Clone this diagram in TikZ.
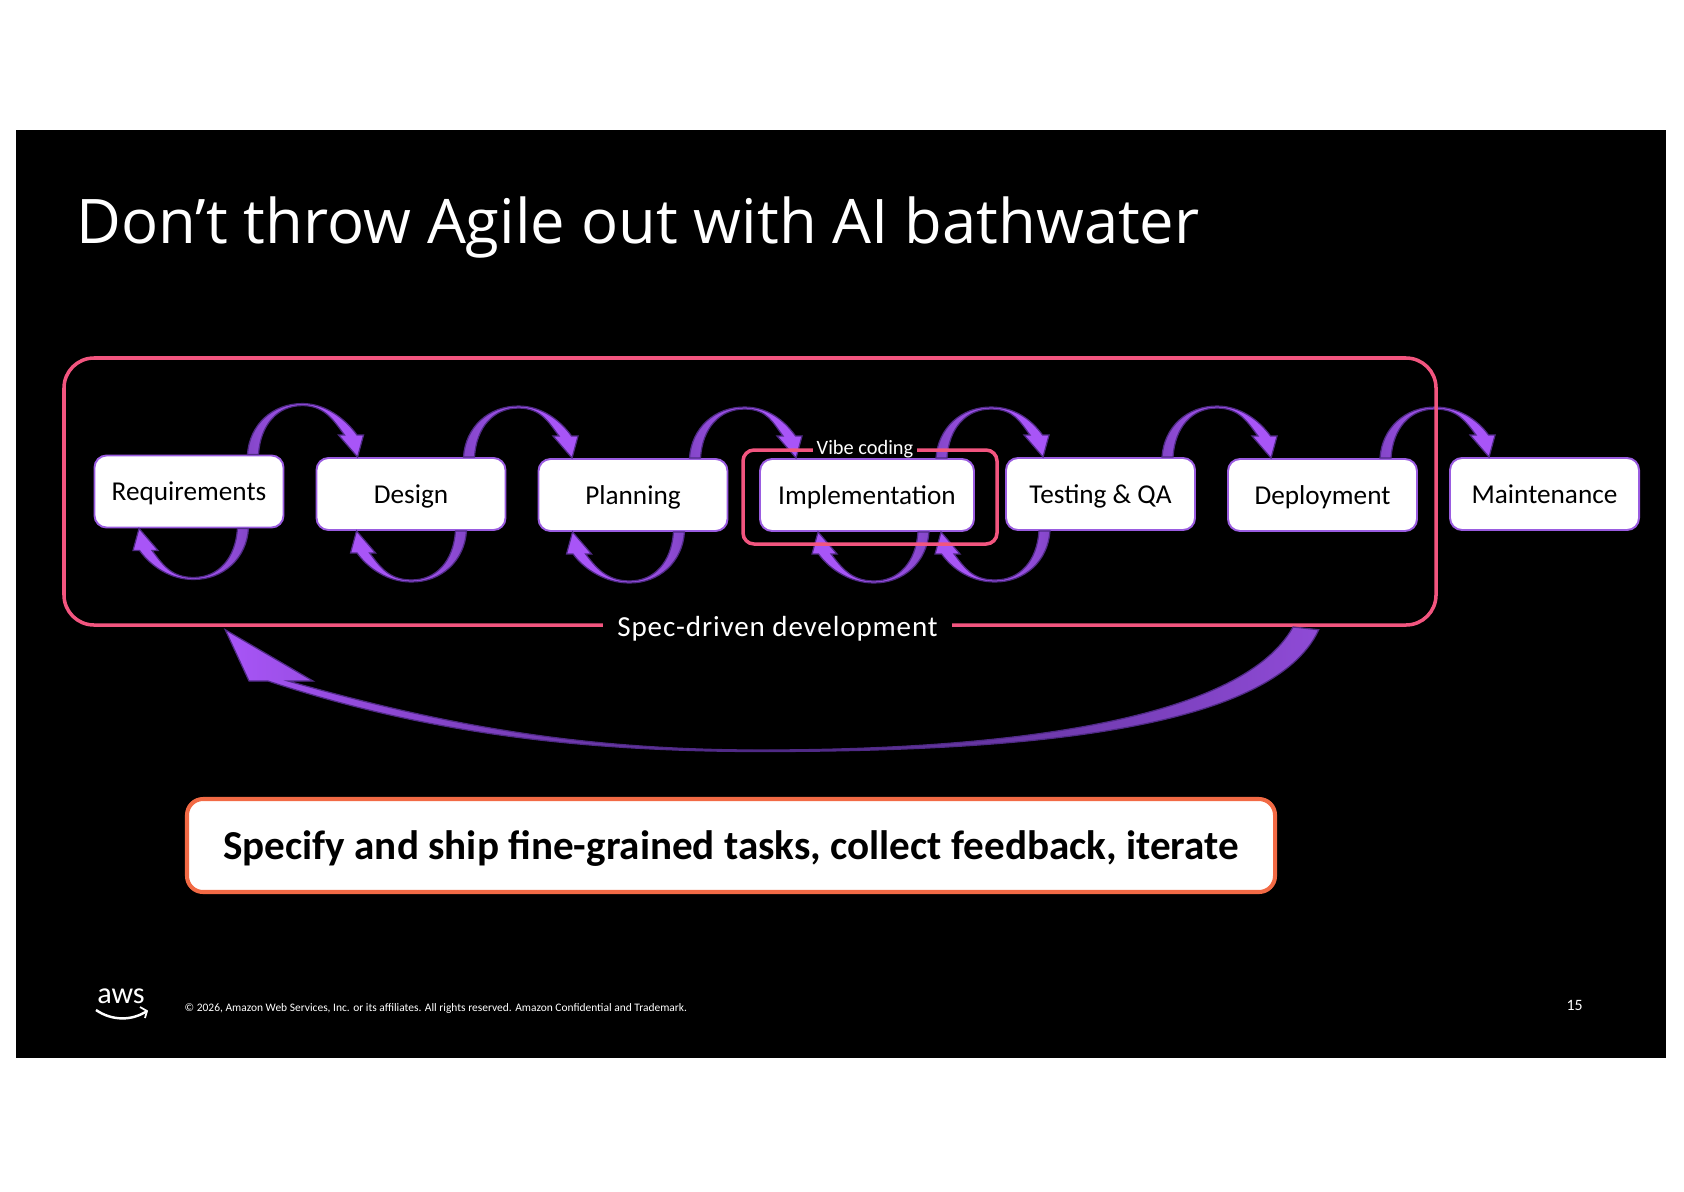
\documentclass[tikz,border=0pt]{standalone}
\usepackage{fontspec}
\usetikzlibrary{calc}
\setmainfont{Carlito}
\newfontfamily\widefont[LetterSpace=3]{Carlito}
\newfontfamily\titlefont{Open Sans}
\definecolor{loopbright}{HTML}{A855F7}
\definecolor{loopdark}{HTML}{8446C8}
\definecolor{loopline}{HTML}{4F2A85}
\definecolor{boxline}{HTML}{9A5CE0}
\definecolor{specpink}{HTML}{F2557F}
\definecolor{calloutorange}{HTML}{F26A45}
\tikzset{
    stagebox/.style={draw=boxline, fill=white, line width=0.55pt, rounded corners=0.12cm,
        minimum width=1.89cm, minimum height=0.72cm, inner sep=0pt, text=black, text height=2.35mm, text depth=0.5mm,
        font=\fontsize{7.75}{9}\selectfont},
    specbox/.style={draw=specpink, line width=1pt, inner sep=0pt},
    overlabel/.style={fill=black, text=white, inner ysep=0.5pt},
    loopover/.style={left color=loopdark, right color=loopbright, middle color=loopbright, draw=loopline, line width=0.35pt},
    loopunder/.style={right color=loopdark, left color=loopbright, middle color=loopbright, draw=loopline, line width=0.35pt},
}
% block arrow: tail, tip, side (1 over, -1 under), style
\newcommand{\loopconn}[4]{
    \draw[#4] (#1) .. controls ($(#1)+#3*(0.02,0.30)$) and ($(#1)+#3*(0.25,0.51)$) .. ($(#1)+#3*(0.55,0.51)$)
        .. controls ($(#1)+#3*(0.78,0.51)$) and ($(#2)+#3*(-0.12,0.38)$) .. ($(#2)+#3*(-0.005,0.22)$)
        -- ($(#2)+#3*(0.06,0.22)$) -- (#2) -- ($(#2)+#3*(-0.19,0.22)$) -- ($(#2)+#3*(-0.13,0.22)$)
        .. controls ($(#2)+#3*(-0.23,0.35)$) and ($(#1)+#3*(0.78,0.49)$) .. ($(#1)+#3*(0.55,0.49)$)
        .. controls ($(#1)+#3*(0.30,0.49)$) and ($(#1)+#3*(0.13,0.30)$) .. ($(#1)+#3*(0.11,0)$) -- cycle;
}
\newcommand{\looptop}[4]{
    \coordinate (looptail) at ($(#1.north east)+(-#3,0)$);
    \coordinate (loophead) at ($(#2.north west)+(#4,0)$);
    \loopconn{looptail}{loophead}{1}{loopover}
}
\newcommand{\loopbottom}[4]{
    \coordinate (looptail) at ($(#1.south east)+(-#3,0)$);
    \coordinate (loophead) at ($(#2.south west)+(#4,0)$);
    \loopconn{looptail}{loophead}{-1}{loopunder}
}
\begin{document}
\begin{tikzpicture}
    \useasboundingbox (0,0) rectangle (16.84,11.91);
    \fill[black] (0.16,1.33) rectangle (16.66,10.61);

    \node[text=white, font={\titlefont\fontsize{17.5}{20}\selectfont}, anchor=base west, inner sep=0pt] (title) at (0.76,9.48) {Don’t throw Agile out with AI bathwater};

    % the stages
    \node[stagebox] (req) at (1.89,6.995) {Requirements};
    \node[stagebox] (des) at (4.11,6.97) {Design};
    \node[stagebox] (plan) at (6.33,6.96) {Planning};
    \node[stagebox, minimum width=2.14cm] (impl) at (8.67,6.96) {Implementation};
    \node[stagebox] (test) at (11.005,6.97) {Testing \& QA};
    \node[stagebox] (dep) at (13.225,6.96) {Deployment};
    \node[stagebox] (maint) at (15.445,6.97) {Maintenance};

    % forward and back loops
    \looptop{req}{des}{.37}{.42}
    \looptop{des}{plan}{.43}{.345}
    \looptop{plan}{impl}{.39}{.37}
    \looptop{impl}{test}{.39}{.38}
    \looptop{test}{dep}{.34}{.44}
    \looptop{dep}{maint}{.38}{.40}
    \loopbottom{req}{req}{.36}{.455}
    \loopbottom{des}{des}{.40}{.41}
    \loopbottom{plan}{plan}{.44}{.35}
    \loopbottom{impl}{impl}{.46}{.59}
    \loopbottom{test}{impl}{1.46}{1.82}

    % the two frames
    \node[specbox, rounded corners=0.3cm, minimum width=13.72cm, minimum height=2.67cm] (spec) at (7.50,6.995) {};
    \node[specbox, rounded corners=0.11cm, minimum width=2.54cm, minimum height=0.94cm] (vibe) at (8.70,6.94) {};
    \node[overlabel, inner xsep=4.1pt, font={\widefont\fontsize{8.27}{11}\selectfont}] (speclabel) at (7.775,5.62) {Spec-driven development};
    \node[overlabel, inner xsep=1.1pt, inner ysep=0pt, text height=1.6mm, text depth=0.3mm, font=\fontsize{5.8}{7}\selectfont] (vibelabel) at (8.65,7.435) {Vibe coding};

    % long way back
    \coordinate (backtail) at ($(spec.south east)+(-1.19,-0.03)$);
    \coordinate (backtip) at ($(spec.south west)+(1.63,-0.03)$);
    \draw[draw=loopline, line width=0.35pt, left color=loopbright, right color=loopdark!70!loopbright, middle color=loopline]
        (backtail) .. controls (12.70,4.56) and (10.00,4.395) .. (7.60,4.395)
        .. controls (5.60,4.395) and (4.10,4.63) .. (2.68,5.10)
        -- (2.49,5.10) -- (backtip) -- (3.13,5.10) -- (2.88,5.10)
        .. controls (4.20,4.73) and (5.60,4.41) .. (7.60,4.41)
        .. controls (10.00,4.41) and (12.40,4.69) .. (12.93,5.64) -- cycle;

    % callout
    \node[draw=calloutorange, fill=white, line width=1.15pt, rounded corners=0.16cm, minimum width=10.88cm, minimum height=0.93cm, text=black, text depth=0mm, font=\bfseries\fontsize{11.7}{14}\selectfont] (callout) at (7.31,3.455) {Specify and ship fine-grained tasks, collect feedback, iterate};

    % footer
    \node[text=white, font=\fontsize{8.6}{9}\selectfont, inner sep=0pt] (logo) at (1.21,1.95) {aws};
    \coordinate (smileleft) at (0.96,1.81);
    \coordinate (smileright) at (1.47,1.80);
    \draw[white, line width=0.7pt] (smileleft) .. controls (1.12,1.70) and (1.32,1.70) .. (smileright);
    \draw[white, line width=0.5pt] (1.40,1.84) -- (smileright) -- (1.45,1.73);
    \node[text=white, font=\fontsize{3.26}{4}\selectfont, anchor=west, inner sep=0pt] (legal) at (1.84,1.83) {© 2026, Amazon Web Services, Inc. or its affiliates. All rights reserved. Amazon Confidential and Trademark.};
    \node[text=white, font=\fontsize{4.5}{5}\selectfont, inner sep=0pt] (pagenum) at (15.745,1.86) {15};
\end{tikzpicture}
\end{document}
